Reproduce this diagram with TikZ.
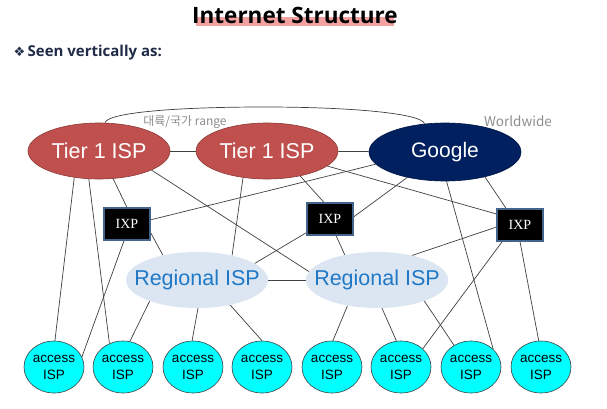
\documentclass[tikz,border=0pt]{standalone}
\usepackage{fontspec}
\setmainfont{Liberation Sans}
\newfontfamily\titlefont{Open Sans}
\newfontfamily\symfont{DejaVu Sans}
\newfontfamily\krfont{Noto Sans CJK KR}
\newfontfamily\ixpfont{Liberation Serif}
\usetikzlibrary{shapes.geometric,calc,backgrounds}
\pgfdeclarelayer{paper}
\pgfsetlayers{paper,background,main}
\definecolor{tierred}{HTML}{C0504D}
\definecolor{tierline}{HTML}{8C3A38}
\definecolor{gnavy}{HTML}{002060}
\definecolor{gline}{HTML}{001540}
\definecolor{regfill}{HTML}{DCE6F2}
\definecolor{regtext}{HTML}{2079C7}
\definecolor{accfill}{HTML}{00FFFF}
\definecolor{accline}{HTML}{404040}
\definecolor{ixpline}{HTML}{44648C}
\definecolor{edgecol}{HTML}{404040}
\definecolor{handcol}{HTML}{8E8E8E}
\definecolor{navytext}{HTML}{1F2B47}
\definecolor{hilite}{HTML}{F2A0A0}
\begin{document}
\begin{tikzpicture}[x=1pt,y=-1pt,
  tier/.style={ellipse, draw=tierline, fill=tierred, line width=0.6pt,
    minimum width=142pt, minimum height=56pt, inner sep=0pt, text=white,
    font=\fontsize{21.5}{24}\selectfont},
  goog/.style={ellipse, draw=gline, fill=gnavy, line width=0.6pt,
    minimum width=152pt, minimum height=58pt, inner sep=0pt, text=white,
    font=\fontsize{21}{24}\selectfont},
  ixp/.style={rectangle, draw=ixpline, fill=black, line width=1.2pt,
    minimum width=46pt, minimum height=32pt, inner sep=0pt, text=white,
    font=\ixpfont\fontsize{14}{16}\selectfont},
  reg/.style={ellipse, fill=regfill, minimum width=142pt, minimum height=56pt,
    inner sep=0pt},
  regtxt/.style={text=regtext, font=\fontsize{21.5}{24}\selectfont},
  acc/.style={ellipse, draw=accline, fill=accfill, line width=0.6pt,
    minimum width=60pt, minimum height=52pt, inner sep=0pt},
  acctxt/.style={align=center, font=\fontsize{13.5}{17}\selectfont},
  conn/.style={draw=edgecol, line width=0.7pt},
  hand/.style={text=handcol}
]
\begin{pgfonlayer}{paper}
\fill[white] (0,0) rectangle (607,409);
\end{pgfonlayer}
\useasboundingbox (0,0) rectangle (607,409);

% title
\fill[hilite] (196,17) rectangle (394,26);
\node[font=\titlefont\bfseries\fontsize{22.5}{26}\selectfont] (title) at (295,15) {Internet Structure};
\node[anchor=west, text=navytext, font=\titlefont\bfseries\fontsize{15}{18}\selectfont] (sub) at (10,53)
  {{\symfont\mdseries\fontsize{13}{15}\selectfont ❖}\,Seen vertically as:};

% nodes
\node[tier] (t1l) at (99,151) {Tier 1 ISP};
\node[tier] (t1m) at (267,151) {Tier 1 ISP};
\node[goog] (gg) at (445,152) {Google};

\node[ixp] (ixl) at (127,224) {IXP};
\node[ixp] (ixm) at (330,219) {IXP};
\node[ixp] (ixr) at (520,225) {IXP};

\node[reg, label={[regtxt]center:Regional ISP}] (rgl) at (197,280) {};
\node[reg, label={[regtxt]center:Regional ISP}] (rgr) at (377,280) {};

\foreach \i/\x in {1/54,2/123,3/193,4/262,5/332,6/401,7/471,8/541}
  \node[acc, label={[acctxt]center:access\\ISP}] (a\i) at (\x,367) {};

% annotations
\node[hand, font=\krfont\fontsize{12}{14}\selectfont] (note1) at (185,122) {대륙/국가 range};
\node[hand, font=\krfont\fontsize{13.5}{15}\selectfont] (note2) at (518,121) {Worldwide};

\coordinate (arctop) at (264,107);

\begin{scope}[on background layer]
  \draw[conn] (t1l.78) .. controls +(2,-10) and +(-90,0) .. (arctop)
                       .. controls +(90,0) and +(-2,-10) .. (gg.126);
  \draw[conn] (t1l) -- (t1m);
  \draw[conn] (t1m) -- (gg);
  \draw[conn] (rgl) -- (rgr);
  % Tier1 left
  \draw[conn] (t1l.227) -- (a1.88);
  \draw[conn] (t1l.250) -- (a2.120);
  \draw[conn] (t1l.297) -- (ixl.north);
  \draw[conn] (t1l.340) -- (rgr.173);
  % Tier1 middle
  \draw[conn] (t1m.228) -- (rgl.35);
  \draw[conn] (t1m.323) -- (ixm.110);
  \draw[conn] (t1m.346) -- (ixr.155);
  % Google
  \draw[conn] (gg.190) -- (ixl.10);
  \draw[conn] (gg.214) -- (ixm.5);
  \draw[conn] (gg.273) -- (a7.39);
  \draw[conn] (gg.328) -- (ixr.130);
  % IXPs
  \draw[conn] (ixl.260) -- (a1.20);
  \draw[conn] (ixl.340) -- (rgl.144);
  \draw[conn] (ixm.210) -- (rgl.16);
  \draw[conn] (ixm.290) -- (rgr.142);
  \draw[conn] (ixr.185) -- (rgr.35);
  \draw[conn] (ixr.223) -- (a6.40);
  \draw[conn] (ixr.south) -- (a8.95);
  % Regionals
  \draw[conn] (rgl.204) -- (a2.75);
  \draw[conn] (rgl.272) -- (a3.92);
  \draw[conn] (rgl.323) -- (a4.north);
  \draw[conn] (rgr.221) -- (a5.88);
  \draw[conn] (rgr.280) -- (a6.100);
  \draw[conn] (rgr.336) -- (a7.128);
\end{scope}
\end{tikzpicture}
\end{document}
